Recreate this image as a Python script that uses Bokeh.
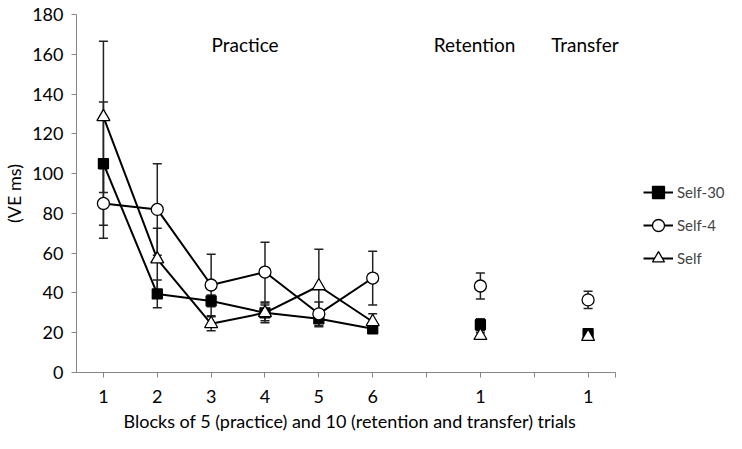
from bokeh.plotting import figure
from bokeh.models import (ColumnDataSource, Whisker, TeeHead, Range1d, FixedTicker,
                          Legend, LegendItem, Label, Title)
from bokeh.embed import file_html
from bokeh.resources import INLINE

# ---- data ----
blocks = [1, 2, 3, 4, 5, 6]          # practice blocks
tests_x = [8, 10]                     # retention, transfer positions
tick_pos = [1, 2, 3, 4, 5, 6, 7, 8, 9, 10, 10.5]
tick_labels = ["1", "2", "3", "4", "5", "6", "", "1", "", "1", ""]

self30 = [105, 39.5, 36, 30, 27, 22]
self30_err = [31, 7, 3, 4, 4, 1.5]
self30_tests = [24, 19.5]
self30_tests_err = [3, 1.5]

self4 = [85, 82, 44, 50.5, 29.5, 47.5]
self4_err = [17.5, 23, 15.5, 15, 6, 13.5]
self4_tests = [43.5, 36.5]
self4_tests_err = [6.5, 4.3]

selfc = [128.5, 57, 24.5, 30, 43.5, 25.5]
selfc_err = [38, 15.5, 3.5, 5, 18.5, 4]
selfc_tests = [18.5, 18]
selfc_tests_err = [1.5, 1]

section_text = ["Practice", "Retention", "Transfer"]
section_x = [3.63, 7.89, 9.94]
section_y = [164.8, 164.8, 164.8]

x_title = "Blocks of 5  (practice) and 10 (retention and transfer) trials"
y_title = "(VE ms)"

FONT = "Lato"
FS = "18px"

# frame extends to the right edge so the legend can sit inside it;
# the x axis line itself is limited to 0.5..10.5 via bounds
p = figure(width=726, height=433, output_backend="svg", toolbar_location=None,
           x_range=Range1d(0.5, 12.57), y_range=Range1d(0, 180),
           min_border_left=74, min_border_right=0, min_border_top=14, min_border_bottom=60)
p.outline_line_color = None
p.xgrid.grid_line_color = None
p.ygrid.grid_line_color = None
p.background_fill_color = "white"
p.border_fill_color = "white"

for ax in (p.xaxis[0], p.yaxis[0]):
    ax.axis_line_color = "#868686"
    ax.major_tick_line_color = "#868686"
    ax.minor_tick_line_color = None
    ax.major_tick_in = 0
    ax.major_tick_out = 5
    ax.major_label_text_font = FONT
    ax.major_label_text_font_size = FS
    ax.major_label_text_color = "black"
    ax.axis_label_text_font = FONT
    ax.axis_label_text_font_size = FS
    ax.axis_label_text_font_style = "normal"
    ax.axis_label_text_color = "black"

p.xaxis.bounds = (0.5, 10.5)
p.xaxis.ticker = FixedTicker(ticks=tick_pos)
p.xaxis.major_label_overrides = {t: l for t, l in zip(tick_pos, tick_labels)}
p.xaxis.major_label_standoff = 12

p.yaxis.ticker = FixedTicker(ticks=list(range(0, 181, 20)))
p.yaxis.major_label_standoff = 8
p.yaxis.axis_label = y_title
p.yaxis.axis_label_standoff = 4

p.add_layout(Title(text=x_title, align="left", offset=47, standoff=4,
                   text_font=FONT, text_font_size=FS, text_font_style="normal",
                   text_color="black"), "below")

series = [
    ("Self-30", self30, self30_err, self30_tests, self30_tests_err, "square", "black", 10),
    ("Self-4", self4, self4_err, self4_tests, self4_tests_err, "circle", "white", 12),
    ("Self", selfc, selfc_err, selfc_tests, selfc_tests_err, "triangle", "white", 13),
]

for name, vals, errs, tv, te, marker, fill, size in series:
    xs = blocks + tests_x
    ys = vals + tv
    es = errs + te
    src = ColumnDataSource(dict(x=xs, up=[y + e for y, e in zip(ys, es)],
                                lo=[y - e for y, e in zip(ys, es)]))
    w = Whisker(source=src, base="x", upper="up", lower="lo", dimension="height",
                line_color="#222222", line_width=1.5,
                upper_head=TeeHead(size=9, line_color="#222222", line_width=1.5),
                lower_head=TeeHead(size=9, line_color="#222222", line_width=1.5))
    p.add_layout(w)

items = []
for name, vals, errs, tv, te, marker, fill, size in series:
    ln = p.line(blocks, vals, line_color="black", line_width=2)
    sc = p.scatter(blocks, vals, marker=marker, size=size, fill_color=fill,
                   line_color="black", line_width=1.3)
    p.scatter(tests_x, tv, marker=marker, size=size, fill_color=fill,
              line_color="black", line_width=1.3)
    items.append(LegendItem(label=name, renderers=[ln, sc]))

legend = Legend(items=items, location=(567, 99), glyph_width=30, glyph_height=30,
                label_height=30, spacing=3, padding=0, margin=0, label_standoff=4,
                border_line_color=None, background_fill_alpha=0,
                label_text_font=FONT, label_text_font_size="15px")
p.add_layout(legend, "center")

for sx, sy, st in zip(section_x, section_y, section_text):
    p.add_layout(Label(x=sx, y=sy, text=st, text_align="center", text_baseline="middle",
                       text_font=FONT, text_font_size="19px", text_color="black"))

open("out.html", "w").write(file_html(p, INLINE))
